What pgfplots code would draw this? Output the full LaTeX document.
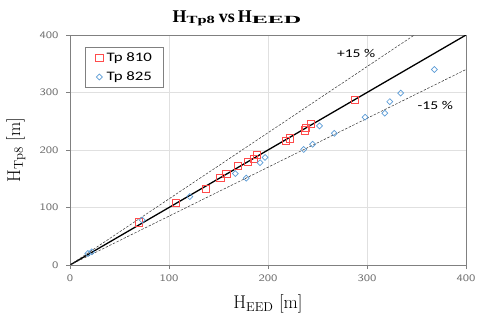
\documentclass[border=0pt]{standalone}
\usepackage{fontspec}
\usepackage{pgfplots}
\pgfplotsset{compat=1.18}
\newfontfamily\carlito{Carlito}
\newfontfamily\timesf{Liberation Serif}
\definecolor{redm}{rgb}{1,0.3,0.3}
\definecolor{bluem}{rgb}{0.36,0.61,0.84}
\definecolor{axgray}{rgb}{0.5,0.5,0.5}
\definecolor{tickgray}{rgb}{0.42,0.42,0.42}
\newcommand{\wide}[1]{\scalebox{1.3}[1]{#1}}
\begin{document}
\begin{tikzpicture}
\path[use as bounding box] (0,0) rectangle (480bp,319bp);
\begin{axis}[
  at={(70bp,54bp)}, anchor=south west,
  scale only axis, width=396bp, height=230bp,
  xmin=0, xmax=400, ymin=0, ymax=400,
  xtick={0,100,200,300,400}, ytick={0,100,200,300,400},
  grid=major,
  major grid style={draw=black!12, line width=0.4pt},
  axis line style={draw=axgray, line width=0.6pt},
  tick align=outside, tick pos=left,
  major tick length=4bp,
  tick style={draw=axgray, line width=0.5pt},
  xticklabel={\scalebox{1.27}[1]{\pgfmathprintnumber[assume math mode=true]{\tick}}},
  yticklabel={\scalebox{1.27}[1]{\pgfmathprintnumber[assume math mode=true]{\tick}}},
  tick label style={font=\sffamily\fontsize{10}{12}\selectfont, text=tickgray},
  xticklabel style={yshift=-2bp},
  yticklabel style={xshift=-4bp},
  every axis title shift=0pt,
  title={\timesf\bfseries\fontsize{18}{20}\selectfont H\raisebox{-1.5bp}{\scalebox{1.5}[1]{\fontsize{11}{12}\selectfont Tp8}}\hspace{4bp}vs\hspace{3bp}H\raisebox{-1.5bp}{\scalebox{2.2}[1]{\fontsize{11}{12}\selectfont EED}}},
  title style={at={(rel axis cs:0.4217,1.055)}, anchor=base, inner sep=0pt},
  xlabel={\fontsize{18.5}{20}\selectfont $\mathrm{H}_{\mathrm{EED}}$ [m]},
  xlabel style={at={(rel axis cs:0.5,-0.191)}, anchor=base, inner sep=0pt},
  ylabel={\fontsize{18.5}{20}\selectfont $\mathrm{H}_{\mathrm{Tp8}}$ [m]},
  ylabel style={at={(rel axis cs:-0.126,0.5)}, anchor=base, rotate=0, inner sep=0pt},
  legend style={at={(rel axis cs:0.0379,0.9465)}, anchor=north west,
    draw=axgray, font=\carlito\fontsize{13}{15}\selectfont,
    inner xsep=9bp, inner ysep=3bp, row sep=5bp},
  legend image code/.code={\draw[#1] plot coordinates {(5bp,0bp)}; \path (0bp,0bp) (10bp,0bp);},
  legend cell align=left,
]
\addplot[black, line width=1.3pt, forget plot] coordinates {(0,0)(400,400)};
\addplot[black!80, line width=0.5pt, dash pattern=on 2.5pt off 1.5pt, forget plot] coordinates {(0,0)(347.83,400)};
\addplot[black!80, line width=0.5pt, dash pattern=on 2.5pt off 1.5pt, forget plot] coordinates {(0,0)(400,340)};
\addplot[only marks, redm, mark=square, mark size=3.6bp, mark options={redm, fill=none, solid, line width=0.85pt}]
coordinates {
(70,74)(107,108)(137,132)(152,152)(158,159)(170,173)(180,179)(186,184)(189,191)
(218,216)(222,220)(237,234)(238,238)(243,246)(288,287)
};
\addlegendentry{\wide{Tp 810}}
\addplot[only marks, bluem, mark=square, mark size=2.1bp, mark options={bluem, rotate=45, fill=none, solid, line width=0.7pt}]
coordinates {
(18,20)(22,23)(73,78)(121,119)(167,159)(178,151)(192,178)(197,187)
(236,201)(245,210)(252,242)(267,229)(298,257)(318,264)(323,284)(334,299)(368,340)
};
\addlegendentry{\wide{Tp 825}}
\node[font=\carlito\fontsize{12}{14}\selectfont] at (axis cs:289,367.5) {\wide{+15 \%}};
\node[font=\carlito\fontsize{12}{14}\selectfont] at (axis cs:369,277) {\wide{-15 \%}};
\end{axis}
\end{tikzpicture}
\end{document}
